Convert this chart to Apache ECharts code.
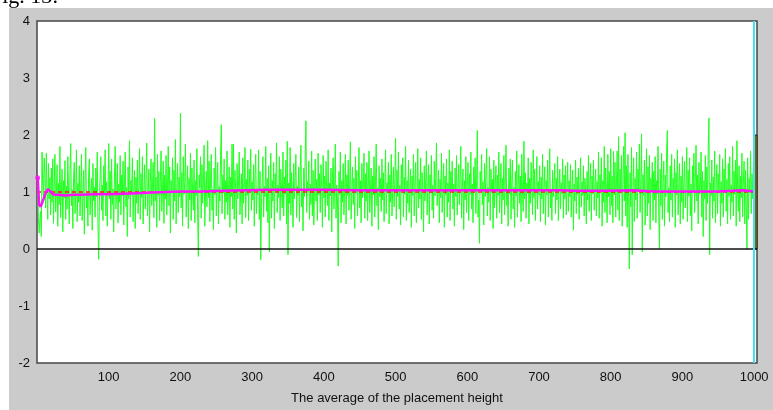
<!DOCTYPE html>
<html><head><meta charset="utf-8">
<script src="https://cdn.jsdelivr.net/npm/echarts@6/dist/echarts.min.js"></script>
<style>html,body{margin:0;padding:0;background:#fff}#c{width:773px;height:410px}</style>
</head><body><div id="c"></div>
<script>
// Green series: height value per placement step (1..1000)
const greenValues = [
1.25,0.55,0.28,0.50,0.66,0.22,1.70,1.12,0.90,1.60,1.30,0.72,1.68,1.02,0.52,1.50,0.88,1.25,0.60,1.42,
0.82,1.58,0.45,1.08,1.66,0.65,0.96,1.48,0.40,1.15,0.78,1.80,0.55,1.00,1.40,0.30,1.20,0.90,1.55,0.52,
1.10,0.70,1.62,0.98,0.44,1.34,1.85,0.76,1.04,0.36,1.26,1.52,0.62,0.95,1.74,0.48,1.15,0.82,1.46,0.58,
1.06,1.66,0.50,0.90,1.38,0.26,1.18,1.78,0.72,1.00,0.40,1.32,1.58,0.60,0.97,1.24,0.33,1.50,0.85,1.08,
0.56,1.42,0.92,1.70,0.45,-0.18,0.80,1.28,1.62,0.68,1.12,0.50,1.46,0.96,1.74,0.58,1.18,0.40,1.03,1.85,
0.88,1.36,0.52,1.58,0.78,1.05,0.30,1.26,1.80,0.70,0.99,1.50,0.46,1.14,0.82,1.64,0.60,1.30,0.93,1.54,
0.42,1.16,1.70,0.74,1.08,0.22,1.44,0.88,1.90,0.56,1.20,0.95,1.60,0.48,1.04,1.38,0.36,1.26,0.80,1.56,
0.62,1.10,1.76,0.52,1.32,0.90,1.62,0.44,1.00,1.48,0.70,1.22,1.86,0.58,0.97,1.40,0.30,1.15,1.58,0.76,
1.06,1.52,0.55,2.29,0.84,1.26,0.38,1.66,0.94,1.36,0.50,1.18,1.72,0.66,1.02,1.54,0.45,1.30,0.88,1.64,
0.60,1.12,1.80,0.76,1.44,0.28,1.20,0.98,1.60,0.52,1.38,0.84,1.92,0.44,1.08,1.50,0.64,1.26,0.92,2.38,
0.72,1.34,0.40,1.62,0.96,1.16,1.84,0.56,1.04,1.46,0.36,1.24,0.86,1.68,0.50,1.42,1.01,0.68,1.56,0.46,
1.20,0.94,1.76,0.62,-0.13,1.30,1.07,1.62,0.54,1.48,0.80,1.12,1.82,0.40,1.00,1.36,0.74,1.90,0.90,1.54,
0.48,1.24,1.66,0.68,1.05,0.34,1.42,0.95,1.78,0.58,1.16,1.52,0.44,1.10,0.84,1.64,2.18,0.62,1.30,0.98,
1.58,0.52,1.20,0.82,1.72,0.60,1.02,1.44,0.38,1.26,0.92,1.84,0.70,1.84,0.52,1.38,1.06,0.28,1.50,0.88,
1.14,1.70,0.60,0.99,1.32,0.44,1.60,0.80,1.08,1.78,0.55,1.22,0.94,1.56,0.50,1.40,1.02,1.75,0.68,1.18,
0.86,1.48,0.40,1.28,1.66,0.62,1.04,0.95,1.74,0.52,1.36,-0.19,0.78,1.16,1.62,0.56,1.10,0.92,1.80,0.66,
1.24,0.46,1.46,-0.05,0.98,1.68,0.54,1.20,0.84,1.52,0.36,1.32,1.03,1.86,0.64,1.12,0.90,1.62,0.50,1.40,
1.07,0.72,1.70,0.58,1.26,0.96,1.56,0.44,1.89,-0.10,1.16,0.80,1.78,0.60,1.34,1.00,0.38,1.50,0.88,1.20,
1.66,0.55,1.10,0.94,1.44,0.48,1.30,1.82,0.74,1.05,0.32,1.42,0.92,1.62,2.25,0.64,1.18,0.99,1.54,0.52,
1.14,0.78,1.72,0.58,1.38,0.42,1.02,1.58,0.84,1.22,0.50,1.68,0.95,1.32,0.64,1.48,1.08,0.38,1.64,0.90,
1.28,0.56,1.54,1.01,0.76,1.74,0.50,1.16,0.93,1.42,0.30,1.24,1.60,0.70,1.04,1.84,0.54,1.12,0.86,-0.30,
1.36,0.96,1.70,0.46,1.20,0.82,1.50,0.60,1.06,1.66,0.44,1.30,0.94,1.56,0.68,1.14,1.88,0.52,1.01,1.44,
0.78,1.24,0.36,1.62,0.98,1.38,0.58,1.09,1.78,0.72,1.20,0.46,1.50,0.90,1.05,1.68,0.54,1.32,0.84,1.52,
0.50,1.14,1.72,0.64,1.02,1.42,0.40,1.28,0.95,1.62,0.56,1.18,1.84,0.76,1.07,0.34,1.46,0.92,1.24,0.66,
1.58,0.86,1.34,0.48,1.10,1.74,0.62,1.16,0.99,1.52,0.44,1.30,0.82,1.66,0.58,1.04,1.44,0.74,1.22,1.94,
0.52,1.38,0.92,1.70,0.70,1.12,0.42,1.48,1.03,1.60,0.56,1.26,0.96,1.80,0.50,1.20,0.80,1.56,0.64,1.06,
1.40,0.38,1.28,0.94,1.66,0.58,1.14,1.52,0.46,1.01,1.76,0.72,1.22,0.88,1.60,0.52,1.34,1.05,0.30,1.46,
0.84,1.18,1.72,0.60,1.08,1.48,0.44,1.30,0.98,1.64,0.68,1.12,0.54,1.54,0.93,1.24,1.86,0.76,1.03,1.38,
0.46,1.22,0.90,1.68,0.64,1.09,1.50,0.38,1.28,0.95,1.58,0.56,1.16,0.82,1.74,0.50,1.36,1.00,1.54,0.70,
1.14,0.40,1.42,0.92,1.64,0.60,1.06,1.48,0.78,1.24,1.80,0.54,1.02,1.40,0.34,1.20,0.86,1.62,0.64,1.10,
1.52,0.50,1.32,0.96,1.70,0.70,1.14,0.46,1.44,1.04,1.60,0.62,1.20,2.08,0.56,0.86,0.10,1.36,1.01,1.66,
0.78,1.18,0.42,1.50,0.92,1.28,1.76,0.58,1.08,0.82,1.62,0.50,1.40,0.99,1.22,0.36,1.56,0.72,1.12,1.46,
0.54,1.30,0.94,1.70,0.64,1.05,1.50,0.44,1.24,0.86,1.64,0.60,1.14,1.82,0.76,1.03,0.40,1.42,0.97,1.58,
0.52,1.20,1.56,0.70,1.08,0.38,1.36,0.93,1.72,0.56,1.12,1.48,0.80,1.28,0.48,1.66,1.00,0.66,1.89,0.88,
1.34,0.54,1.16,0.98,1.60,0.44,1.24,0.80,1.52,1.05,0.60,1.74,0.90,1.40,0.50,1.10,1.62,0.70,1.18,0.95,
1.46,0.48,1.26,0.88,1.66,0.62,1.07,1.44,0.42,1.20,0.95,1.56,0.56,1.14,1.76,0.72,1.02,0.50,1.38,0.92,
1.12,1.50,0.62,1.24,0.86,1.62,0.50,1.06,1.40,0.70,1.16,0.97,1.58,0.54,1.30,0.88,1.46,0.60,1.08,1.52,
0.66,1.20,0.92,1.48,0.56,1.05,1.38,0.33,1.14,0.84,1.56,0.62,1.26,0.96,1.42,0.52,1.10,1.60,0.74,1.18,
0.94,1.46,0.58,1.24,1.03,0.44,1.36,0.86,1.64,0.66,1.12,1.50,0.50,1.28,0.97,1.56,0.68,1.07,1.40,0.58,
1.18,0.90,1.70,0.54,1.30,1.00,1.60,0.40,1.20,0.82,1.80,0.64,1.42,1.05,0.46,1.66,0.92,1.36,0.60,1.76,
0.76,1.28,0.46,1.71,0.95,1.52,0.56,1.16,1.72,0.68,1.97,0.50,1.40,0.98,1.64,0.40,1.20,1.80,0.84,2.04,
0.58,1.46,0.38,1.66,0.90,-0.35,1.34,0.74,1.78,-0.10,1.07,1.60,0.48,1.24,0.86,1.70,0.54,1.40,1.04,1.84,
0.64,1.16,2.02,-0.05,1.30,0.94,1.56,0.42,1.10,1.76,0.58,1.44,0.80,1.64,0.34,1.24,1.01,1.52,0.50,1.36,
0.86,1.62,0.46,1.20,0.97,1.80,0.60,0.00,1.40,0.76,1.68,0.52,1.14,1.54,0.40,1.30,0.92,1.73,2.08,0.64,
1.08,0.48,1.46,0.86,1.66,0.56,1.24,1.02,1.58,0.38,1.34,0.95,1.74,0.60,1.12,1.50,0.44,1.28,0.82,1.62,
0.52,1.18,1.54,0.72,1.04,1.78,0.48,1.38,0.93,1.60,0.58,1.14,0.32,1.46,0.99,1.68,0.64,1.22,1.82,0.84,
1.30,0.44,1.52,0.96,1.08,1.70,0.56,1.36,0.22,1.20,0.88,1.64,0.50,1.44,0.80,1.78,2.30,-0.10,1.16,0.94,
1.56,0.54,1.26,0.84,1.72,0.46,1.06,1.48,0.62,1.32,0.98,1.66,0.40,1.18,0.80,1.58,0.56,1.40,1.01,1.76,
0.66,1.22,0.44,1.50,0.93,1.62,0.52,1.12,0.82,1.80,0.58,1.36,0.96,1.56,0.40,1.90,1.07,0.66,1.46,0.48,
1.28,0.90,1.68,0.56,1.16,1.54,0.44,1.38,0.78,0.00,1.60,0.52,1.24,0.98,1.72,0.62,1.32,0.88,1.52,1.08
];
// Magenta series: running average, read at sampled steps
const avgSteps  = [1,3,5,7,9,12,15,18,22,26,30,40,50,60,80,100,120,140,160,180,200,230,260,290,320,350,400,450,500,550,600,650,700,730,750,800,830,860,900,950,970,985,1000];
const avgValues = [1.25,0.78,0.74,0.80,0.82,0.98,1.05,1.02,0.96,0.95,0.95,0.94,0.95,0.95,0.96,0.96,0.97,0.98,0.99,1.00,1.01,1.01,1.02,1.03,1.04,1.04,1.04,1.03,1.03,1.03,1.03,1.03,1.03,1.03,1.02,1.02,1.03,1.01,1.01,1.01,1.02,1.03,1.01];
const refLevel = 1;          // red dashed reference
const zeroLevel = 0;         // black zero line
const markerStep = 1000;     // cyan vertical marker
const barRange = [1001, 1004]; // olive end bar x-range
const barTop = 2;
const xTicks = [100,200,300,400,500,600,700,800,900,1000];
const yTicks = [-2,-1,0,1,2,3,4];
const xTitle = 'The average of the placement height';
const figCaption = 'Fig. 13:';

const chart = echarts.init(document.getElementById('c'), null, {renderer:'canvas'});
const greenData = greenValues.map((v,i)=>[i+1,v]);
const avgData = avgSteps.map((s,i)=>[s,avgValues[i]]);
const font = 'Liberation Sans, Arial, sans-serif';
chart.setOption({
  animation:false,
  backgroundColor:'#ffffff',
  graphic:[
    {type:'rect', left:9, top:8, shape:{width:764, height:402}, style:{fill:'#cbcbcb'}, z:-10, silent:true},
    {type:'text', left:-10, top:-14, style:{text:figCaption, font:'22px "Liberation Serif", "Times New Roman", serif', fill:'#000'}, z:-9, silent:true}
  ],
  grid:{left:37, top:21, right:16, bottom:46, show:true, backgroundColor:'#ffffff', borderColor:'#474747', borderWidth:1.5},
  xAxis:{type:'value', min:0, max:1004, interval:100,
    axisLine:{show:false}, axisTick:{show:false}, splitLine:{show:false},
    axisLabel:{color:'#111', fontFamily:font, fontSize:13, margin:8,
      formatter:v=> xTicks.indexOf(v)>=0 ? String(v) : ''},
    name:xTitle, nameLocation:'middle', nameGap:29,
    nameTextStyle:{color:'#111', fontFamily:font, fontSize:13}},
  yAxis:{type:'value', min:yTicks[0], max:yTicks[yTicks.length-1], interval:1,
    axisLine:{show:false}, axisTick:{show:false}, splitLine:{show:false},
    axisLabel:{color:'#111', fontFamily:font, fontSize:13, margin:7}},
  series:[
    {type:'line', data:greenData, symbol:'none', lineStyle:{color:'#22ff22', width:1}, z:2,
      markLine:{silent:true, symbol:'none', label:{show:false},
        data:[
          {yAxis:zeroLevel, lineStyle:{color:'#111', type:'solid', width:1.5}},
          {xAxis:markerStep, lineStyle:{color:'#3fe3f3', type:'solid', width:2}}
        ]},
      markArea:{silent:true, itemStyle:{color:'#b08f00', borderColor:'#222', borderWidth:1},
        data:[[{coord:[barRange[0], zeroLevel]},{coord:[barRange[1], barTop]}]]}
    },
    {type:'line', data:[[0,refLevel],[1004,refLevel]], symbol:'none', lineStyle:{color:'#ff2020', width:1.5, type:[4,3]}, z:3},
    {type:'line', data:avgData, symbol:'none', lineStyle:{color:'#ff10ff', width:2.5}, z:4},
    {type:'scatter', data:[avgData[0]], symbol:'circle', symbolSize:5, itemStyle:{color:'#ff10ff'}, z:5}
  ]
});
</script></body></html>
